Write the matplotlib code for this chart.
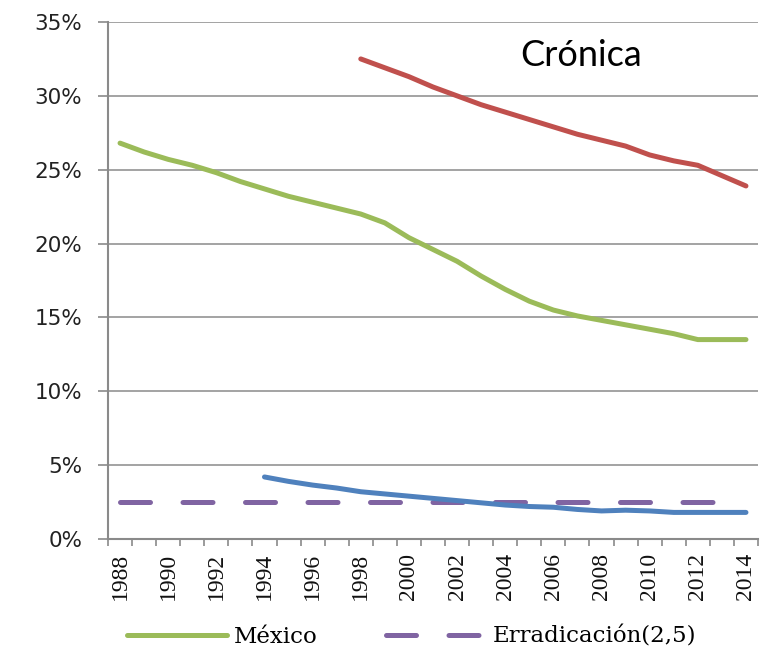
import numpy as np
import matplotlib
matplotlib.use("Agg")
import matplotlib.pyplot as plt
from matplotlib.ticker import FixedLocator, PercentFormatter

# data (percent)
years = list(range(1988, 2015))
mexico = [26.8, 26.2, 25.7, 25.3, 24.8, 24.2, 23.7, 23.2, 22.8, 22.4, 22.0, 21.4,
          20.4, 19.6, 18.8, 17.8, 16.9, 16.1, 15.5, 15.1, 14.8, 14.5, 14.2, 13.9,
          13.5, 13.5, 13.5]
cronica_years = list(range(1998, 2015))
cronica = [32.5, 31.9, 31.3, 30.6, 30.0, 29.4, 28.9, 28.4, 27.9, 27.4, 27.0, 26.6,
           26.0, 25.6, 25.3, 24.6, 23.9]
blue_years = list(range(1994, 2015))
blue = [4.2, 3.9, 3.65, 3.45, 3.2, 3.05, 2.9, 2.75, 2.6, 2.45, 2.3, 2.2, 2.15, 2.0,
        1.9, 1.95, 1.9, 1.8, 1.8, 1.8, 1.8]
target_years = list(range(1988, 2014))
target = [2.5] * len(target_years)

yticks = [0, 5, 10, 15, 20, 25, 30, 35]
label_years = years[::2]

GREEN = "#9BBB59"
RED = "#C0504D"
BLUE = "#4F81BD"
PURPLE = "#8064A2"
GRID = "#8a8a8a"


def idx(ys):
    return [y - years[0] for y in ys]


fig = plt.figure(figsize=(7.69, 6.5), dpi=100)
ax = fig.add_axes([108 / 769, 1 - 539 / 650, 650 / 769, 517 / 650])

lw = 3.6
l_mex, = ax.plot(idx(years), mexico, color=GREEN, lw=lw, solid_capstyle="round",
                 solid_joinstyle="round", label="México", zorder=3)
ax.plot(idx(cronica_years), cronica, color=RED, lw=lw, solid_capstyle="round",
        solid_joinstyle="round", zorder=3)
ax.plot(idx(blue_years), blue, color=BLUE, lw=lw, solid_capstyle="round",
        solid_joinstyle="round", zorder=3)
l_tgt, = ax.plot(idx(target_years), target, color=PURPLE, lw=lw,
                 dashes=(6.0, 6.5), dash_capstyle="round",
                 label="Erradicación(2,5)", zorder=2)

ax.set_xlim(-0.5, len(years) - 0.5)
ax.set_ylim(0, 35)

# y axis
ax.set_yticks(yticks)
ax.yaxis.set_major_formatter(PercentFormatter(decimals=0))
ax.tick_params(axis="y", length=7.5, width=1.2, color=GRID, pad=11,
               labelsize=15.5, labelcolor="#222222")
for t in ax.get_yticklabels():
    t.set_fontfamily("DejaVu Sans")
ax.grid(axis="y", color=GRID, lw=1.1, zorder=1)

# x axis: category labels every two years, tick marks between categories
ax.set_xticks(idx(label_years))
ax.set_xticklabels([str(y) for y in label_years], rotation=90,
                   family="Liberation Serif", fontsize=17, color="#111111")
ax.tick_params(axis="x", which="major", length=0, pad=10)
ax.xaxis.set_minor_locator(FixedLocator(np.arange(-0.5, len(years), 1.0)))
ax.tick_params(axis="x", which="minor", length=5, width=1.2, color=GRID)

for s in ["top", "right"]:
    ax.spines[s].set_visible(False)
for s in ["left", "bottom"]:
    ax.spines[s].set_color(GRID)
    ax.spines[s].set_linewidth(1.5)

ax.text(0.728, 0.935, "Crónica", transform=ax.transAxes, ha="center", va="center",
        family="Lato", fontsize=26, color="black")

fs = 16.5
fig.legend(handles=[l_mex, l_tgt], loc="center left",
           bbox_to_anchor=(127 / 769, 1 - 637 / 650), ncol=2, frameon=False,
           prop={"family": "DejaVu Serif", "size": fs},
           borderpad=0, borderaxespad=0,
           handlelength=100 / (fs * 100 / 72), handletextpad=0.3, columnspacing=3.0)

fig.savefig("out.png", dpi=100)
